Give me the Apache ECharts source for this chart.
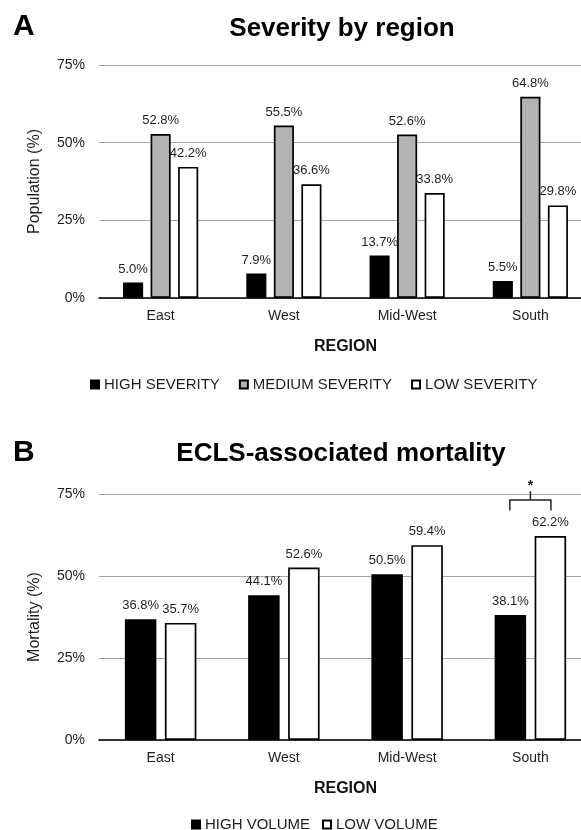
<!DOCTYPE html>
<html>
<head>
<meta charset="utf-8">
<script src="https://cdn.jsdelivr.net/npm/echarts@6/dist/echarts.min.js"></script>
<style>
html,body{margin:0;padding:0;background:#fff;overflow:hidden;width:581px;height:830px;}
#chart{width:600px;height:830px;}
</style>
</head>
<body>
<div id="chart"></div>
<script>
const regions = ['East', 'West', 'Mid-West', 'South'];
const yTicks = [0, 25, 50, 75];
// Panel A: Severity by region (%)
const highSeverity = [5.0, 7.9, 13.7, 5.5];
const mediumSeverity = [52.8, 55.5, 52.6, 64.8];
const lowSeverity = [42.2, 36.6, 33.8, 29.8];
// Panel B: ECLS-associated mortality (%)
const highVolume = [36.8, 44.1, 50.5, 38.1];
const lowVolume = [35.7, 52.6, 59.4, 62.2];
// significance marker (panel B)
const sigCategory = 'South';

const FONT = '"Liberation Sans", Arial, sans-serif';
const TXT = '#1e1e1e';

const chart = echarts.init(document.getElementById('chart'), null, {renderer: 'canvas'});

function xAxisCfg(gridIndex) {
  return {
    type: 'category', gridIndex, data: regions,
    axisTick: {show: false},
    axisLine: {lineStyle: {color: '#000', width: 1.6}},
    axisLabel: {fontSize: 14, color: TXT, margin: 11, fontFamily: FONT},
    name: 'REGION', nameLocation: 'middle', nameGap: 41,
    nameTextStyle: {fontSize: 16, fontWeight: 'bold', color: '#111', fontFamily: FONT}
  };
}
function yAxisCfg(gridIndex, name) {
  return {
    type: 'value', gridIndex, min: yTicks[0], max: yTicks[yTicks.length - 1], interval: yTicks[1] - yTicks[0],
    axisLine: {show: false}, axisTick: {show: false},
    axisLabel: {formatter: '{value}%', fontSize: 14, color: TXT, margin: 14, fontFamily: FONT},
    splitLine: {lineStyle: {color: '#a4a4a4', width: 1.2}},
    name, nameLocation: 'middle', nameGap: 56,
    nameTextStyle: {fontSize: 16, color: TXT, fontFamily: FONT}
  };
}
const lbl = {
  show: true, position: 'top', distance: 7, fontSize: 13, color: TXT, fontFamily: FONT,
  formatter: p => p.value.toFixed(1) + '%'
};
function barA(name, data, color) {
  return {
    type: 'bar', name, data, xAxisIndex: 0, yAxisIndex: 0,
    barCategoryGap: '39%', barGap: '37%',
    itemStyle: {color, borderColor: '#000', borderWidth: 1.7},
    label: lbl, emphasis: {disabled: true}
  };
}
function barB(name, data, color) {
  return {
    type: 'bar', name, data, xAxisIndex: 1, yAxisIndex: 1,
    barCategoryGap: '42%', barGap: '27%',
    itemStyle: {color, borderColor: '#000', borderWidth: 1.7},
    label: lbl, emphasis: {disabled: true}
  };
}

const sigIdx = regions.indexOf(sigCategory);
const sigLevel = Math.max(highVolume[sigIdx], lowVolume[sigIdx]) + 11;

const option = {
  animation: false,
  backgroundColor: '#fff',
  textStyle: {fontFamily: FONT},
  grid: [
    {left: 99, top: 65, width: 493, height: 233},
    {left: 99, top: 494, width: 493, height: 246}
  ],
  xAxis: [xAxisCfg(0), xAxisCfg(1)],
  yAxis: [yAxisCfg(0, 'Population (%)'), yAxisCfg(1, 'Mortality (%)')],
  legend: [
    {data: ['HIGH SEVERITY', 'MEDIUM SEVERITY', 'LOW SEVERITY'], left: 85, top: 372,
     icon: 'rect', itemWidth: 8, itemHeight: 8, itemGap: 19,
     textStyle: {fontSize: 15, color: TXT, fontFamily: FONT}, selectedMode: false},
    {data: ['HIGH VOLUME', 'LOW VOLUME'], left: 186, top: 812,
     icon: 'rect', itemWidth: 8, itemHeight: 8, itemGap: 12,
     textStyle: {fontSize: 15, color: TXT, fontFamily: FONT}, selectedMode: false}
  ],
  graphic: [
    {type: 'text', x: 13, y: 27, style: {text: 'A', font: 'bold 30px ' + FONT, fill: '#000', align: 'left', verticalAlign: 'middle'}},
    {type: 'text', x: 342, y: 29, style: {text: 'Severity by region', font: 'bold 26px ' + FONT, fill: '#000', align: 'center', verticalAlign: 'middle'}},
    {type: 'text', x: 13, y: 453, style: {text: 'B', font: 'bold 30px ' + FONT, fill: '#000', align: 'left', verticalAlign: 'middle'}},
    {type: 'text', x: 341, y: 454, style: {text: 'ECLS-associated mortality', font: 'bold 26px ' + FONT, fill: '#000', align: 'center', verticalAlign: 'middle'}}
  ],
  series: [
    barA('HIGH SEVERITY', highSeverity, '#000'),
    barA('MEDIUM SEVERITY', mediumSeverity, '#b3b3b3'),
    barA('LOW SEVERITY', lowSeverity, '#fff'),
    barB('HIGH VOLUME', highVolume, '#000'),
    barB('LOW VOLUME', lowVolume, '#fff'),
    {
      type: 'custom', name: 'sig', xAxisIndex: 1, yAxisIndex: 1, silent: true, z: 5,
      data: [[sigIdx, sigLevel]],
      renderItem: function (params, api) {
        const p = api.coord([api.value(0), api.value(1)]);
        const band = api.size([1, 0])[0];
        const hw = band / 6;
        const drop = api.size([0, 3.2])[1];
        const stem = api.size([0, 2.6])[1];
        return {
          type: 'group',
          children: [
            {type: 'polyline', shape: {points: [[p[0] - hw, p[1] + drop], [p[0] - hw, p[1]], [p[0] + hw, p[1]], [p[0] + hw, p[1] + drop]]},
             style: {stroke: '#222', lineWidth: 1.5, fill: null}},
            {type: 'line', shape: {x1: p[0], y1: p[1], x2: p[0], y2: p[1] - stem}, style: {stroke: '#222', lineWidth: 1.5}},
            {type: 'text', x: p[0], y: p[1] - stem + 2, style: {text: '*', font: 'bold 14px ' + FONT, fill: '#222', align: 'center', verticalAlign: 'bottom'}}
          ]
        };
      }
    }
  ]
};
chart.setOption(option);
</script>
</body>
</html>
